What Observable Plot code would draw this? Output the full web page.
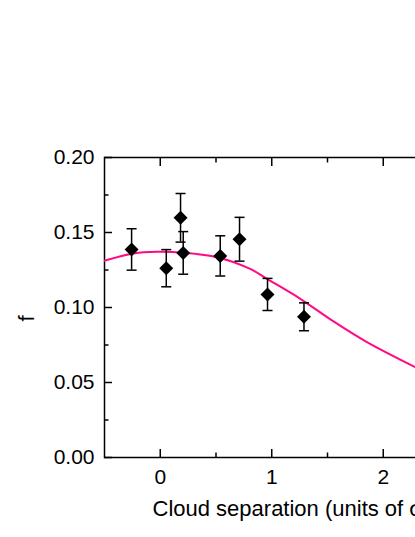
<!DOCTYPE html>
<html><head><meta charset="utf-8">
<script src="https://cdn.jsdelivr.net/npm/d3@7"></script>
<script src="https://cdn.jsdelivr.net/npm/@observablehq/plot@0.6"></script>
<style>
html,body{margin:0;padding:0;overflow:hidden;background:#fff;width:415px;height:537px}
#chart{width:560px}
#chart svg{max-width:none !important;width:560px;height:537px;display:block}
</style>
</head><body><div id="chart"></div>
<script>
// Measured points with symmetric error bars
const ptX = [-0.257, 0.054, 0.182, 0.206, 0.538, 0.711, 0.962, 1.289];
const ptY = [0.1387, 0.1262, 0.1598, 0.1364, 0.1344, 0.1455, 0.1087, 0.0938];
const ptErr = [0.0138, 0.0124, 0.0162, 0.0142, 0.0134, 0.0146, 0.0107, 0.0093];

// Fitted curve
const curveX = [-0.502, -0.239, -0.030, 0.209, 0.509, 0.807, 0.957, 1.256, 1.554, 1.854, 2.287];
const curveY = [0.1312, 0.1360, 0.1371, 0.1365, 0.1335, 0.1257, 0.1191, 0.1058, 0.0907, 0.0769, 0.0602];

// Ticks and labels
const xMajor = [0, 1, 2];
const xTickLabels = ["0", "1", "2"];
const xMinor = [0.5, 1.5, 2.5];
const yMajor = [0, 0.05, 0.10, 0.15, 0.20];
const yTickLabels = ["0.00", "0.05", "0.10", "0.15", "0.20"];
const yMinor = [0.025, 0.075, 0.125, 0.175];
const xTitle = "Cloud separation (units of σ)";
const yTitle = "f";

const points = ptX.map((x, i) => ({x, y: ptY[i], lo: ptY[i] - ptErr[i], hi: ptY[i] + ptErr[i]}));
const curve = curveX.map((x, i) => ({x, y: curveY[i]}));

const capSymbol = {draw(ctx) { ctx.moveTo(-5, 0); ctx.lineTo(5, 0); }};
const font = "'Liberation Sans', Arial, Helvetica, sans-serif";

const chart = Plot.plot({
  width: 560, height: 537,
  marginLeft: 104, marginRight: 10, marginTop: 157, marginBottom: 80,
  style: {fontFamily: font, fontSize: "21px", color: "black", background: "white", maxWidth: "none"},
  x: {domain: [-0.5, 3.5]},
  y: {domain: [0, 0.2]},
  marks: [
    Plot.frame({stroke: "black", strokeWidth: 1.5}),
    Plot.axisX({anchor: "bottom", ticks: xMajor, tickSize: -8, tickPadding: 20, strokeWidth: 1.5,
      tickFormat: d => xTickLabels[xMajor.indexOf(d)], label: null}),
    Plot.axisX({anchor: "bottom", ticks: xMinor, tickSize: -4.5, text: null, strokeWidth: 1.5, label: null}),
    Plot.axisX({anchor: "top", ticks: xMajor, tickSize: -8, text: null, strokeWidth: 1.5, label: null}),
    Plot.axisX({anchor: "top", ticks: xMinor, tickSize: -4.5, text: null, strokeWidth: 1.5, label: null}),
    Plot.axisY({anchor: "left", ticks: yMajor, tickSize: -8, tickPadding: 18, strokeWidth: 1.5,
      tickFormat: d => yTickLabels[yMajor.findIndex(v => Math.abs(v - d) < 1e-9)], label: null}),
    Plot.axisY({anchor: "left", ticks: yMinor, tickSize: -4.5, text: null, strokeWidth: 1.5, label: null}),
    Plot.line(curve, {x: "x", y: "y", stroke: "#ff0a84", strokeWidth: 2, curve: "catmull-rom", clip: true}),
    Plot.ruleX(points, {x: "x", y1: "lo", y2: "hi", stroke: "black", strokeWidth: 1.5}),
    Plot.dot(points, {x: "x", y: "hi", symbol: capSymbol, stroke: "black", strokeWidth: 1.5, fill: "none"}),
    Plot.dot(points, {x: "x", y: "lo", symbol: capSymbol, stroke: "black", strokeWidth: 1.5, fill: "none"}),
    Plot.dot(points, {x: "x", y: "y", symbol: "diamond2", r: 6.3, fill: "black", stroke: null}),
    Plot.text([xTitle], {frameAnchor: "bottom-left", text: d => d, textAnchor: "start", dx: 48, dy: 58, fontSize: 22}),
    Plot.text([yTitle], {frameAnchor: "left", text: d => d, rotate: -90, dx: -78, dy: 14, fontSize: 22})
  ]
});
document.getElementById("chart").appendChild(chart);
</script>
</body></html>
